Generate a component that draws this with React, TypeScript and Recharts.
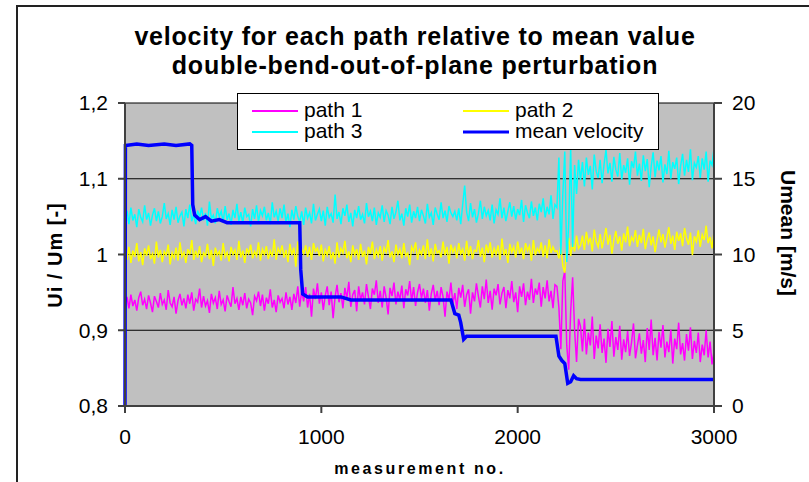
import React from "react";
import { LineChart, Line, XAxis, YAxis, CartesianGrid, Legend } from "recharts";

// measurement number spacing of the sampled path values
const measurementStep = 10;

// Ui / Um for path 1 (magenta), one value every 10 measurements, 0..3000
const path1 = [
  0.935, 0.944, 0.929, 0.947, 0.932, 0.940, 0.926, 0.943, 0.951, 0.933,
  0.941, 0.928, 0.946, 0.936, 0.924, 0.945, 0.938, 0.930, 0.949, 0.934,
  0.940, 0.927, 0.953, 0.936, 0.931, 0.944, 0.922, 0.939, 0.948, 0.933,
  0.942, 0.929, 0.947, 0.935, 0.950, 0.926, 0.941, 0.937, 0.955, 0.930,
  0.945, 0.932, 0.939, 0.923, 0.948, 0.936, 0.943, 0.928, 0.952, 0.934,
  0.940, 0.925, 0.946, 0.938, 0.931, 0.957, 0.935, 0.942, 0.927, 0.944,
  0.933, 0.949, 0.929, 0.941, 0.936, 0.920, 0.945, 0.939, 0.951, 0.932,
  0.947, 0.926, 0.943, 0.935, 0.954, 0.930, 0.940, 0.924, 0.946, 0.937,
  0.942, 0.929, 0.950, 0.934, 0.944, 0.927, 0.948, 0.936, 0.958, 0.931,
  0.952, 0.938, 0.957, 0.930, 0.948, 0.918, 0.955, 0.941, 0.962, 0.935,
  0.950, 0.927, 0.946, 0.958, 0.933, 0.951, 0.916, 0.944, 0.960, 0.937,
  0.949, 0.929, 0.956, 0.942, 0.964, 0.931, 0.947, 0.953, 0.925, 0.958,
  0.940, 0.950, 0.934, 0.961, 0.944, 0.928, 0.955, 0.947, 0.966, 0.936,
  0.952, 0.930, 0.958, 0.943, 0.921, 0.956, 0.945, 0.963, 0.934, 0.951,
  0.940, 0.959, 0.929, 0.954, 0.946, 0.965, 0.938, 0.957, 0.932, 0.950,
  0.961, 0.942, 0.955, 0.936, 0.953, 0.926, 0.948, 0.960, 0.939, 0.952,
  0.933, 0.957, 0.944, 0.918, 0.951, 0.940, 0.963, 0.935, 0.949, 0.928,
  0.956, 0.943, 0.960, 0.931, 0.947, 0.954, 0.922, 0.950, 0.938, 0.962,
  0.945, 0.930, 0.958, 0.941, 0.967, 0.936, 0.952, 0.927, 0.955, 0.946,
  0.961, 0.934, 0.949, 0.957, 0.929, 0.953, 0.942, 0.965, 0.937, 0.950,
  0.924, 0.958, 0.944, 0.962, 0.933, 0.951, 0.940, 0.968, 0.936, 0.955,
  0.947, 0.963, 0.931, 0.957, 0.942, 0.966, 0.938, 0.952, 0.929, 0.960,
  0.958, 0.930, 0.875, 0.965, 0.978, 0.880, 0.848, 0.925, 0.970, 0.900,
  0.858, 0.915,
  0.905, 0.872, 0.915, 0.868, 0.897, 0.880, 0.918, 0.862, 0.893, 0.876,
  0.908, 0.870, 0.889, 0.857, 0.902, 0.878, 0.912, 0.865, 0.891, 0.874,
  0.906, 0.861, 0.888, 0.871, 0.899, 0.866, 0.884, 0.909, 0.863, 0.880,
  0.896, 0.869, 0.887, 0.858, 0.903, 0.874, 0.914, 0.867, 0.890, 0.860,
  0.898, 0.877, 0.907, 0.864, 0.885, 0.871, 0.901, 0.856, 0.889, 0.875,
  0.910, 0.868, 0.883, 0.860, 0.895, 0.873, 0.904, 0.862, 0.886, 0.870,
  0.897, 0.858, 0.881, 0.867, 0.900, 0.864, 0.885, 0.855, 0.872,
];

// Ui / Um for path 2 (yellow)
const path2 = [
  1.002, 0.993, 1.010, 0.989, 1.005, 0.997, 1.015, 0.991, 1.003, 0.986,
  1.008, 0.998, 1.012, 0.994, 1.001, 0.988, 1.017, 0.996, 1.006, 0.990,
  1.004, 0.999, 1.013, 0.987, 1.002, 0.995, 1.009, 0.992, 1.016, 0.997,
  1.003, 0.989, 1.007, 1.000, 1.019, 0.993, 1.005, 0.996, 1.011, 0.990,
  1.002, 0.998, 1.014, 0.994, 1.006, 0.985, 1.009, 0.999, 1.004, 0.992,
  1.015, 0.997, 1.003, 0.991, 1.010, 1.000, 1.006, 0.993, 1.018, 0.996,
  1.005, 0.989, 1.008, 1.001, 1.013, 0.995, 1.004, 0.998, 1.016, 0.992,
  1.007, 1.000, 1.011, 0.994, 1.005, 0.997, 1.020, 0.993, 1.008, 1.002,
  1.012, 0.996, 1.006, 0.990, 1.014, 0.999, 1.009, 0.984, 1.017, 0.995,
  1.007, 1.001, 1.012, 0.997, 1.010, 0.993, 1.015, 1.004, 1.008, 0.998,
  1.013, 0.991, 1.006, 0.999, 1.011, 0.994, 1.003, 0.988, 1.016, 0.996,
  1.008, 1.002, 1.018, 0.995, 1.004, 0.990, 1.012, 0.999, 1.007, 0.993,
  1.014, 0.997, 1.005, 0.987, 1.010, 1.001, 1.017, 0.994, 1.006, 0.998,
  1.011, 0.992, 1.009, 1.003, 1.019, 0.996, 1.004, 0.990, 1.013, 1.000,
  1.007, 0.995, 1.015, 0.998, 1.002, 0.986, 1.010, 1.004, 1.016, 0.993,
  1.006, 1.000, 1.012, 0.994, 1.020, 0.997, 1.008, 0.991, 1.014, 1.002,
  1.005, 0.996, 1.017, 0.999, 1.010, 0.988, 1.013, 1.003, 1.009, 0.995,
  1.015, 1.001, 1.007, 0.992, 1.018, 0.998, 1.011, 0.994, 1.006, 1.004,
  1.019, 0.997, 1.009, 0.990, 1.013, 1.002, 1.016, 0.996, 1.008, 1.000,
  1.012, 0.993, 1.021, 0.999, 1.007, 0.989, 1.014, 1.003, 1.010, 0.996,
  1.017, 1.001, 1.009, 0.994, 1.015, 1.005, 1.011, 0.992, 1.019, 0.999,
  1.008, 1.003, 1.016, 0.997, 1.012, 0.995, 1.020, 1.002, 1.010, 1.004,
  1.005, 0.995, 1.012, 0.985, 0.976, 1.010, 1.022, 0.998, 1.015, 1.004,
  1.025, 1.008,
  1.012, 1.025, 1.006, 1.030, 1.015, 1.022, 1.004, 1.033, 1.017, 1.010,
  1.027, 1.008, 1.021, 1.035, 1.013, 1.026, 1.001, 1.019, 1.031, 1.014,
  1.024, 1.005, 1.028, 1.016, 1.037, 1.011, 1.023, 1.018, 1.032, 1.010,
  1.026, 1.015, 1.034, 1.007, 1.020, 1.029, 1.012, 1.024, 1.003, 1.019,
  1.033, 1.016, 1.027, 1.009, 1.022, 1.036, 1.014, 1.025, 1.006, 1.030,
  1.018, 1.028, 1.011, 1.035, 1.021, 1.013, 1.029, 0.999, 1.024, 1.017,
  1.032, 1.010, 1.026, 1.019, 1.038, 1.015, 1.023, 1.008, 1.030,
];

// Ui / Um for path 3 (cyan)
const path3 = [
  1.048, 1.058, 1.040, 1.062, 1.045, 1.053, 1.036, 1.060, 1.049, 1.043,
  1.065, 1.046, 1.055, 1.038, 1.052, 1.061, 1.044, 1.057, 1.041, 1.050,
  1.068, 1.047, 1.054, 1.039, 1.059, 1.046, 1.063, 1.042, 1.051, 1.056,
  1.037, 1.060, 1.048, 1.066, 1.044, 1.053, 1.040, 1.058, 1.049, 1.062,
  1.045, 1.055, 1.038, 1.070, 1.047, 1.052, 1.041, 1.061, 1.050, 1.057,
  1.043, 1.064, 1.046, 1.054, 1.039, 1.059, 1.048, 1.067, 1.044, 1.056,
  1.041, 1.062, 1.050, 1.053, 1.037, 1.060, 1.047, 1.065, 1.043, 1.058,
  1.051, 1.063, 1.045, 1.055, 1.040, 1.069, 1.049, 1.057, 1.044, 1.061,
  1.048, 1.066, 1.042, 1.054, 1.036, 1.059, 1.046, 1.064, 1.050, 1.043,
  1.057, 1.039, 1.062, 1.048, 1.055, 1.041, 1.067, 1.045, 1.053, 1.060,
  1.044, 1.058, 1.038, 1.063, 1.049, 1.054, 1.042, 1.079, 1.047, 1.056,
  1.040, 1.061, 1.051, 1.066, 1.043, 1.055, 1.037, 1.059, 1.048, 1.064,
  1.046, 1.053, 1.041, 1.068, 1.050, 1.057, 1.044, 1.062, 1.039, 1.055,
  1.049, 1.065, 1.043, 1.058, 1.052, 1.040, 1.063, 1.047, 1.056, 1.071,
  1.045, 1.054, 1.038, 1.061, 1.050, 1.066, 1.042, 1.057, 1.048, 1.063,
  1.044, 1.059, 1.051, 1.041, 1.067, 1.049, 1.055, 1.039, 1.062, 1.053,
  1.046, 1.069, 1.048, 1.058, 1.043, 1.064, 1.055, 1.050, 1.057, 1.045,
  1.061, 1.040, 1.066, 1.091, 1.056, 1.044, 1.068, 1.049, 1.060, 1.042,
  1.054, 1.071, 1.047, 1.063, 1.051, 1.058, 1.045, 1.066, 1.041, 1.059,
  1.053, 1.074, 1.048, 1.062, 1.044, 1.057, 1.069, 1.050, 1.064, 1.046,
  1.060, 1.052, 1.072, 1.043, 1.065, 1.055, 1.048, 1.070, 1.051, 1.062,
  1.045, 1.067, 1.056, 1.074, 1.049, 1.063, 1.053, 1.078, 1.047, 1.066,
  1.062, 1.128, 1.000, 1.080, 1.136, 0.990, 1.040, 1.140, 1.010, 1.118,
  1.080, 1.125,
  1.098, 1.122, 1.090, 1.128, 1.105, 1.117, 1.086, 1.132, 1.110, 1.101,
  1.125, 1.094, 1.119, 1.138, 1.107, 1.121, 1.096, 1.129, 1.112, 1.103,
  1.134, 1.099, 1.118, 1.108, 1.127, 1.092, 1.123, 1.114, 1.136, 1.104,
  1.120, 1.097, 1.131, 1.110, 1.126, 1.089, 1.116, 1.135, 1.102, 1.124,
  1.111, 1.130, 1.095, 1.119, 1.106, 1.137, 1.100, 1.122, 1.113, 1.128,
  1.093, 1.117, 1.133, 1.104, 1.125, 1.109, 1.139, 1.098, 1.121, 1.115,
  1.130, 1.101, 1.127, 1.112, 1.136, 1.096, 1.124, 1.118, 1.140,
];

// mean velocity [m/s] (right axis) at the measurement numbers where it changes
const meanVelocityX = [
  0, 2, 60, 120, 200, 260, 330, 340, 345, 355, 380, 410, 440, 480, 520, 600,
  700, 800, 890, 895, 905, 930, 1100, 1150, 1400, 1660, 1680, 1700, 1710,
  1725, 1740, 2000, 2195, 2210, 2225, 2240, 2255, 2270, 2285, 2300, 2320, 3000,
];
const meanVelocity = [
  0, 17.2, 17.3, 17.2, 17.3, 17.2, 17.3, 17.2, 13.3, 12.6, 12.3, 12.5, 12.2,
  12.3, 12.1, 12.1, 12.1, 12.1, 12.1, 9.0, 7.4, 7.2, 7.2, 7.0, 7.0, 7.0, 6.1,
  6.0, 5.5, 4.4, 4.6, 4.6, 4.6, 3.3, 3.0, 2.8, 1.5, 1.6, 2.0, 1.8, 1.75, 1.75,
];

const leftTicks = [0.8, 0.9, 1.0, 1.1, 1.2];
const rightTicks = [0, 5, 10, 15, 20];
const xTicks = [0, 1000, 2000, 3000];

const titleLines = [
  "velocity for each path relative to mean value",
  "double-bend-out-of-plane perturbation",
];

const FONT = "'Liberation Sans', Arial, sans-serif";

const toPoints = (vals: number[]) =>
  vals.map((y, i) => ({ x: i * measurementStep, y }));

const series = [
  { key: "p1", name: "path 1", color: "#FF00FF", data: toPoints(path1), axis: "left", width: 1.5 },
  { key: "p2", name: "path 2", color: "#FFFF00", data: toPoints(path2), axis: "left", width: 1.5 },
  { key: "p3", name: "path 3", color: "#00FFFF", data: toPoints(path3), axis: "left", width: 1.5 },
  {
    key: "mv",
    name: "mean velocity",
    color: "#0000FF",
    data: meanVelocityX.map((x, i) => ({ x, y: meanVelocity[i] })),
    axis: "right",
    width: 3.5,
  },
];

const legendPos = [
  { x: 15, y: 18 },
  { x: 226, y: 18 },
  { x: 15, y: 39 },
  { x: 226, y: 39 },
];
const legendOrder = ["p1", "p2", "p3", "mv"];

const LegendBox = () => (
  <svg width={422} height={57} style={{ display: "block" }}>
    <rect x={0.5} y={0.5} width={421} height={56} fill="#fff" stroke="#000" strokeWidth={1} />
    {legendOrder.map((k, i) => {
      const s = series.find((q) => q.key === k)!;
      const p = legendPos[i];
      return (
        <g key={k}>
          <line x1={p.x} x2={p.x + 46} y1={p.y} y2={p.y} stroke={s.color} strokeWidth={s.key === "mv" ? 3 : 2} />
          <text x={p.x + 52} y={p.y + 6} fontSize={21} fontFamily={FONT} fill="#000">
            {s.name}
          </text>
        </g>
      );
    })}
  </svg>
);

const fmtLeft = (v: number) =>
  Math.abs(v - 1) < 1e-9 ? "1" : v.toFixed(1).replace(".", ",");

export default function App() {
  return (
    <div
      style={{
        position: "absolute",
        left: 0,
        top: 0,
        width: 809,
        height: 482,
        overflow: "hidden",
        background: "#fff",
      }}
    >
      <div
        style={{
          position: "absolute",
          left: 16,
          top: 5,
          width: 1000,
          height: 1000,
          borderTop: "2px solid #222",
          borderLeft: "2px solid #222",
        }}
      />
      <div style={{ position: "absolute", left: 0, top: 0 }}>
        <LineChart width={809} height={482} margin={{ top: 103, right: 0, bottom: 0, left: 0 }}>
          <CartesianGrid
            yAxisId="left"
            vertical={false}
            stroke="#000"
            strokeWidth={1}
            fill="#C0C0C0"
            fillOpacity={1}
          />
          <XAxis
            type="number"
            dataKey="x"
            domain={[0, 3000]}
            ticks={xTicks}
            height={76}
            tickSize={7}
            tickMargin={16}
            stroke="#404040"
            strokeWidth={2}
            tick={{ fill: "#000", fontSize: 21, fontFamily: FONT }}
            allowDuplicatedCategory={false}
          />
          <YAxis
            yAxisId="left"
            domain={[0.8, 1.2]}
            ticks={leftTicks}
            width={125}
            tickSize={7}
            tickMargin={10}
            tickFormatter={fmtLeft}
            stroke="#404040"
            strokeWidth={2}
            tick={{ fill: "#000", fontSize: 21, fontFamily: FONT }}
          />
          <YAxis
            yAxisId="right"
            orientation="right"
            domain={[0, 20]}
            ticks={rightTicks}
            width={95}
            tickSize={8}
            tickMargin={10}
            stroke="#404040"
            strokeWidth={2}
            tick={{ fill: "#000", fontSize: 21, fontFamily: FONT }}
          />
          {series.map((s) => (
            <Line
              key={s.key}
              data={s.data}
              dataKey="y"
              name={s.name}
              yAxisId={s.axis}
              type="linear"
              stroke={s.color}
              strokeWidth={s.width}
              dot={false}
              activeDot={false}
              isAnimationActive={false}
            />
          ))}
          <Legend
            layout="vertical"
            align="center"
            verticalAlign="middle"
            content={() => <LegendBox />}
            wrapperStyle={{ position: "absolute", left: 237, top: 93, width: 422, height: 57 }}
          />
        </LineChart>
      </div>
      <svg
        width={809}
        height={482}
        style={{ position: "absolute", left: 0, top: 0, pointerEvents: "none" }}
      >
        <text x={415} y={45} textAnchor="middle" fontSize={25} fontWeight="bold" fontFamily={FONT} letterSpacing={0.8} fill="#000">
          {titleLines[0]}
        </text>
        <text x={415} y={74} textAnchor="middle" fontSize={25} fontWeight="bold" fontFamily={FONT} letterSpacing={0.8} fill="#000">
          {titleLines[1]}
        </text>
        <text
          x={0}
          y={0}
          transform="translate(62,255) rotate(-90)"
          textAnchor="middle"
          fontSize={20}
          fontWeight="bold"
          fontFamily={FONT}
          letterSpacing={1}
          fill="#000"
        >
          Ui / Um [-]
        </text>
        <text
          x={0}
          y={0}
          transform="translate(781,233) rotate(90)"
          textAnchor="middle"
          fontSize={21}
          fontWeight="bold"
          fontFamily={FONT}
          fill="#000"
        >
          Umean [m/s]
        </text>
        <text x={420} y={474} textAnchor="middle" fontSize={16} fontWeight="bold" fontFamily={FONT} letterSpacing={2.6} fill="#000">
          measurement no.
        </text>
      </svg>
    </div>
  );
}
